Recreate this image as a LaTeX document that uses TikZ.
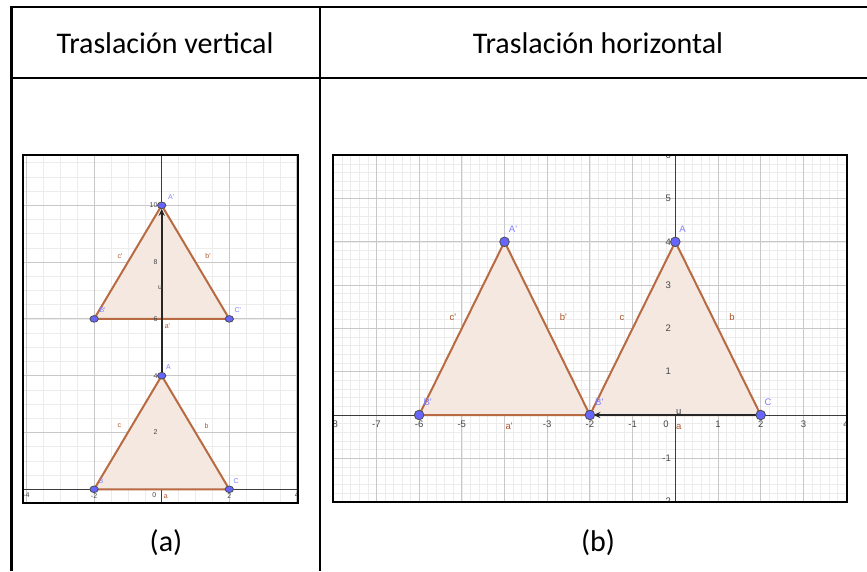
\documentclass[tikz,border=0pt]{standalone}
\usepackage{fontspec}
\setmainfont{Carlito}
\newfontfamily\ggbfont{Liberation Sans}
\usetikzlibrary{arrows.meta, positioning}

\definecolor{gridmaj}{RGB}{200,200,200}
\definecolor{gridmin}{RGB}{236,236,236}
\definecolor{edgebrown}{RGB}{184,106,66}
\definecolor{fillbrown}{RGB}{244,232,225}
\definecolor{ptblue}{RGB}{102,102,255}
\definecolor{ptlabelblue}{RGB}{128,128,255}
\definecolor{sidebrown}{RGB}{176,84,40}
\definecolor{axisgrey}{RGB}{60,60,60}
\definecolor{tickgrey}{RGB}{70,70,70}

\tikzset{
  tabline/.style={line width=2.4pt, black},
  headtext/.style={font=\fontsize{30}{34}\selectfont, inner sep=0pt, anchor=base},
  minorgrid/.style={gridmin, line width=0.6pt},
  majorgrid/.style={gridmaj, line width=0.9pt},
  axisline/.style={axisgrey, line width=1pt},
  trifill/.style={fill=fillbrown},
  triedge/.style={edgebrown, line width=2pt, line join=round},
  vecarrow/.style={-{Stealth[length=7pt,width=6pt]}, black!85, line width=1.8pt,
                   shorten >=3.5pt},
  ptdot/.style={fill=ptblue, draw=black!70, line width=0.8pt},
  ptlabel/.style={text=ptlabelblue, inner sep=0pt},
  sidelabel/.style={text=sidebrown, inner sep=0pt},
  ticklabel/.style={text=tickgrey, inner sep=0pt},
  panelframe/.style={draw=black, line width=2.4pt}
}

\begin{document}
\begin{tikzpicture}[x=1pt, y=-1pt]
  \useasboundingbox (0,0) rectangle (867,571);

  % Table
  \draw [tabline] (11.5,571) -- (11.5,7) -- (867,7);
  \draw [tabline] (11.5,78) -- (867,78);
  \draw [tabline] (320,7) -- (320,571);
  \node [headtext] (hdvert)  at (165,53)  {Traslación vertical};
  \node [headtext] (hdhoriz) at (598,53)  {Traslación horizontal};
  \node [headtext] (capa)    at (166,551) {(a)};
  \node [headtext] (capb)    at (598,551) {(b)};

  % (a) vertical translation by u = (0,6)
  \begin{scope}[shift={(161.7pt,-489.3pt)}, x=33.8pt, y=28.4pt,
                font=\ggbfont\fontsize{7}{8}\selectfont]
    \begin{scope}
      \clip (-4.1,-0.48) rectangle (4.04,11.77);
      \draw [minorgrid, step=0.5] (-4.1,-0.48) grid (4.04,11.77);
      \draw [majorgrid, step=2]   (-4.1,-0.48) grid (4.04,11.77);
      \draw [axisline] (-4.1,0) -- (4.04,0);
      \draw [axisline] (0,-0.48) -- (0,11.77);

      \coordinate (lA)  at (0,4);
      \coordinate (lB)  at (-2,0);
      \coordinate (lC)  at (2,0);
      \coordinate (lAp) at (0,10);
      \coordinate (lBp) at (-2,6);
      \coordinate (lCp) at (2,6);

      \fill [trifill] (lA) -- (lB) -- (lC) -- cycle;
      \fill [trifill] (lAp) -- (lBp) -- (lCp) -- cycle;
      \draw [triedge] (lA) -- (lB) -- (lC) -- cycle;
      \draw [triedge] (lAp) -- (lBp) -- (lCp) -- cycle;
      \draw [vecarrow] (lA) -- (lAp);

      % axis numbers
      \foreach \x in {-4,-2,2,4}
        \node [ticklabel] (lx\x) at (\x,-0.22) {\x};
      \node [ticklabel] (lx0) at (-0.22,-0.2) {0};
      \foreach \y in {2,4,6,8,10}
        \node [ticklabel, anchor=east] (ly\y) at (-0.12,\y) {\y};

      \foreach \p in {lA,lB,lC,lAp,lBp,lCp}
        \path [ptdot] (\p) ellipse [x radius=4.2pt, y radius=3.3pt];

      % labels
      \node [ptlabel] (lAlab)  at (0.2,4.3)    {A};
      \node [ptlabel] (lBlab)  at (-1.8,0.3)   {B};
      \node [ptlabel] (lClab)  at (2.2,0.3)    {C};
      \node [ptlabel] (lAplab) at (0.28,10.3)  {A'};
      \node [ptlabel] (lBplab) at (-1.75,6.3)  {B'};
      \node [ptlabel] (lCplab) at (2.25,6.3)   {C'};
      \node [sidelabel] (lalab)  at (0.12,-0.26) {a};
      \node [sidelabel] (lblab)  at (1.33,2.23)  {b};
      \node [sidelabel] (lclab)  at (-1.25,2.23) {c};
      \node [sidelabel] (laplab) at (0.17,5.75)  {a'};
      \node [sidelabel] (lbplab) at (1.37,8.2)   {b'};
      \node [sidelabel] (lcplab) at (-1.23,8.2)  {c'};
      \node [ticklabel] (lulab) at (-0.05,7.1) {u};
    \end{scope}
    \draw [panelframe] (-4.1,-0.48) rectangle (4.04,11.77);
  \end{scope}

  % (b) horizontal translation by u = (-4,0)
  \begin{scope}[shift={(675.3pt,-415pt)}, x=42.7pt, y=43.3pt,
                font=\ggbfont\fontsize{9.5}{11}\selectfont]
    \begin{scope}
      \clip (-8.02,-2.01) rectangle (4.02,6.0);
      \draw [minorgrid, step=0.2] (-8.02,-2.01) grid (4.02,6.0);
      \draw [majorgrid, step=1]   (-8.02,-2.01) grid (4.02,6.0);
      \draw [axisline] (-8.02,0) -- (4.02,0);
      \draw [axisline] (0,-2.01) -- (0,6.0);

      \coordinate (rA)  at (0,4);
      \coordinate (rB)  at (-2,0);
      \coordinate (rC)  at (2,0);
      \coordinate (rAp) at (-4,4);
      \coordinate (rBp) at (-6,0);
      \coordinate (rCp) at (-2,0);

      \fill [trifill] (rA) -- (rB) -- (rC) -- cycle;
      \fill [trifill] (rAp) -- (rBp) -- (rCp) -- cycle;
      \draw [triedge] (rA) -- (rB) -- (rC) -- cycle;
      \draw [triedge] (rAp) -- (rBp) -- (rCp) -- cycle;
      \draw [vecarrow] (rC) -- (rB);

      % axis numbers
      \foreach \x in {-8,-7,-6,-5,-3,-2,-1,1,2,3,4}
        \node [ticklabel] (rx\x) at (\x,-0.22) {\x};
      \node [ticklabel] (rx0) at (-0.22,-0.22) {0};
      \foreach \y in {-2,-1,1,2,3,4,5,6}
        \node [ticklabel, anchor=east] (ry\y) at (-0.1,\y) {\y};

      \foreach \p in {rA,rB,rC,rAp,rBp}
        \path [ptdot] (\p) circle [radius=4.8pt];

      % labels
      \node [ptlabel] (rAlab)  at (0.17,4.3)   {A};
      \node [ptlabel] (rClab)  at (2.17,0.29)  {C};
      \node [ptlabel] (rAplab) at (-3.8,4.3)   {A'};
      \node [ptlabel] (rBplab) at (-5.8,0.29)  {B'};
      \node [ptlabel] (rCplab) at (-1.78,0.29) {B'};
      \node [sidelabel] (ralab)  at (0.08,-0.27)  {a};
      \node [sidelabel] (rblab)  at (1.33,2.25)   {b};
      \node [sidelabel] (rclab)  at (-1.25,2.25)  {c};
      \node [sidelabel] (raplab) at (-3.89,-0.27) {a'};
      \node [sidelabel] (rbplab) at (-2.62,2.25)  {b'};
      \node [sidelabel] (rcplab) at (-5.21,2.25)  {c'};
      \node [ticklabel] (rulab) at (0.08,0.08) {u};
    \end{scope}
    \draw [panelframe] (-8.02,-2.01) rectangle (4.02,6.0);
  \end{scope}
\end{tikzpicture}
\end{document}
